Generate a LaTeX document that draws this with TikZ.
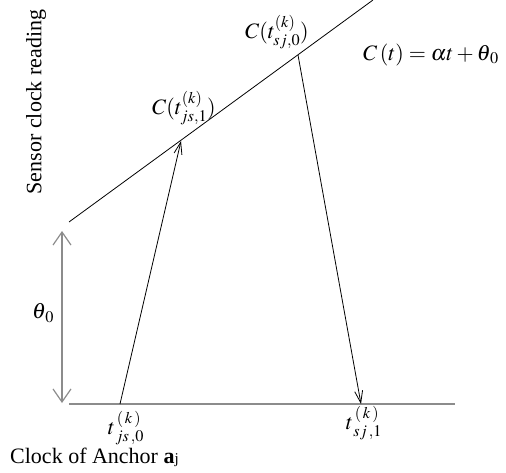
\documentclass[tikz,border=0pt]{standalone}
\usepackage{mathptmx}
\usepackage[no-math]{fontspec}
\setmainfont{Liberation Serif}
\usetikzlibrary{arrows.meta}
\begin{document}
\begin{tikzpicture}[x=1pt,y=-1pt,
  lbl/.style={inner sep=0pt,font=\fontsize{22}{26}\selectfont},
  thin line/.style={line width=0.8pt,black},
  arr/.style={thin line,-{Straight Barb[length=12pt,width=8pt,line width=0.8pt]}},
  base/.style={line width=2pt,gray!90},
  dbl/.style={line width=1.5pt,gray!90,{Straight Barb[length=13pt,width=18pt,line width=1.2pt]}-{Straight Barb[length=13pt,width=18pt,line width=1.2pt]}}]
\useasboundingbox (0,0) rectangle (506,473);
% coordinates
\coordinate (L0) at (69,222);
\coordinate (L1) at (373,0);
\coordinate (B0) at (69,404);
\coordinate (B1) at (455,404);
\coordinate (S0) at (120,404);
\coordinate (S1) at (181,141);
\coordinate (R0) at (298,55);
\coordinate (R1) at (361,404);
\coordinate (D0) at (62,231);
\coordinate (D1) at (62,403);
% lines
\draw[base] (B0) -- (B1);
\draw[thin line] (L0) -- (L1);
\draw[arr] (S0) -- (S1);
\draw[arr] (R0) -- (R1);
\draw[dbl] (D0) -- (D1);
% labels
\node[lbl,rotate=90] (ylab) at (36,102) {Sensor clock reading};
\node[lbl] (cjs) at (184,108) {$C(t^{(k)}_{js,1})$};
\node[lbl] (csj) at (277,32) {$C(t^{(k)}_{sj,0})$};
\node[lbl] (eq) at (431,55) {$C\,(t)=\alpha t+\theta_{\,0}$};
\node[lbl] (th) at (43,313) {$\theta_{\,0}$};
\node[lbl] (tjs) at (126,428) {$t^{\,(\,k\,)}_{\,js\,,0}$};
\node[lbl] (tsj) at (364,423) {$t^{\,(\,k\,)}_{\,sj\,,1}$};
\node[lbl,anchor=base west] (clk) at (10,463) {Clock of Anchor \textbf{a}{\fontsize{15}{15}\selectfont j}};
\end{tikzpicture}
\end{document}
